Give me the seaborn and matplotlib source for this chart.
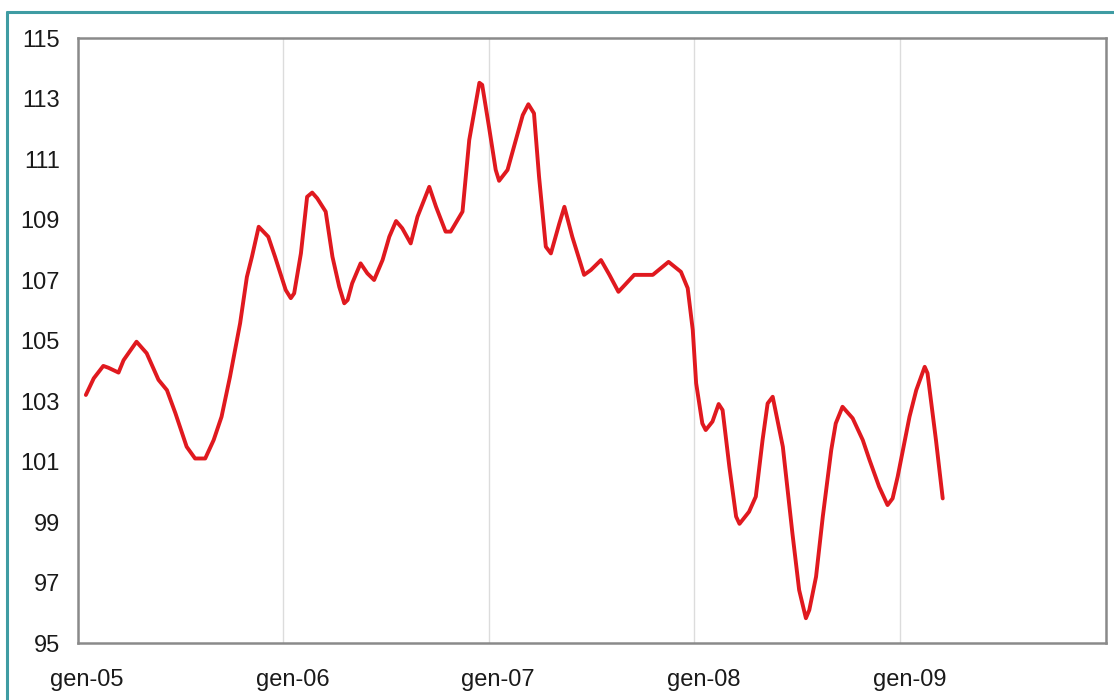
import pandas as pd
import matplotlib.pyplot as plt
from matplotlib.lines import Line2D
from matplotlib.transforms import ScaledTranslation
import seaborn as sns

# ─────────────────────────────────────────────
# DATA
# ─────────────────────────────────────────────
dates = [
    "2005-01-15", "2005-01-29", "2005-02-15", "2005-02-24", "2005-03-14", "2005-03-23",
    "2005-04-15", "2005-05-03", "2005-05-24", "2005-06-08", "2005-06-23", "2005-07-13",
    "2005-07-28", "2005-08-15", "2005-08-30", "2005-09-13", "2005-09-28", "2005-10-16",
    "2005-10-28", "2005-11-06", "2005-11-18", "2005-12-05", "2005-12-17",
    "2006-01-05", "2006-01-14", "2006-01-20", "2006-02-01", "2006-02-12", "2006-02-21",
    "2006-03-02", "2006-03-17", "2006-03-29", "2006-04-10", "2006-04-19", "2006-04-25",
    "2006-05-03", "2006-05-18", "2006-05-30", "2006-06-11", "2006-06-26", "2006-07-08",
    "2006-07-20", "2006-07-31", "2006-08-15", "2006-08-27", "2006-09-17", "2006-09-29",
    "2006-10-16", "2006-10-25", "2006-11-15", "2006-11-27", "2006-12-15", "2006-12-20",
    "2007-01-01", "2007-01-13", "2007-01-19", "2007-02-03", "2007-03-02", "2007-03-12",
    "2007-03-22", "2007-03-31", "2007-04-12", "2007-04-21", "2007-05-06", "2007-05-15",
    "2007-05-29", "2007-06-19", "2007-07-01", "2007-07-19", "2007-08-03", "2007-08-19",
    "2007-09-16", "2007-10-19", "2007-11-16", "2007-12-08", "2007-12-20", "2007-12-29",
    "2008-01-04", "2008-01-15", "2008-01-21", "2008-02-02", "2008-02-13", "2008-02-20",
    "2008-03-03", "2008-03-15", "2008-03-21", "2008-04-07", "2008-04-19", "2008-05-01",
    "2008-05-10", "2008-05-19", "2008-06-06", "2008-06-23", "2008-07-05", "2008-07-17",
    "2008-07-23", "2008-08-04", "2008-08-16", "2008-08-31", "2008-09-08", "2008-09-20",
    "2008-10-08", "2008-10-26", "2008-11-07", "2008-11-24", "2008-12-09", "2008-12-18",
    "2008-12-27", "2009-01-17", "2009-01-29", "2009-02-13", "2009-02-18", "2009-03-05",
    "2009-03-17",
]
values = [
    103.20, 103.75, 104.16, 104.10, 103.94, 104.35,
    104.96, 104.58, 103.70, 103.36, 102.60, 101.49,
    101.10, 101.10, 101.71, 102.48, 103.80, 105.57,
    107.10, 107.77, 108.76, 108.43, 107.77,
    106.67, 106.40, 106.56, 107.88, 109.75, 109.89,
    109.70, 109.26, 107.77, 106.78, 106.23, 106.34,
    106.89, 107.55, 107.22, 107.00, 107.66, 108.43,
    108.95, 108.71, 108.21, 109.09, 110.08, 109.42,
    108.60, 108.60, 109.26, 111.63, 113.52, 113.45,
    112.07, 110.64, 110.28, 110.64, 112.45, 112.81,
    112.51, 110.41, 108.10, 107.88, 108.87, 109.42,
    108.43, 107.17, 107.33, 107.66, 107.17, 106.61,
    107.17, 107.17, 107.60, 107.27, 106.73, 105.35,
    103.59, 102.26, 102.04, 102.32, 102.90, 102.70,
    100.83, 99.18, 98.94, 99.34, 99.84, 101.71,
    102.92, 103.14, 101.49, 98.63, 96.75, 95.82,
    96.09, 97.19, 99.18, 101.38, 102.26, 102.81,
    102.43, 101.71, 101.05, 100.17, 99.56, 99.78,
    100.50, 102.48, 103.36, 104.13, 103.92, 101.71,
    99.78,
]

tick_dates = ["2005-01-01", "2006-01-01", "2007-01-01", "2008-01-01", "2009-01-01", "2010-01-01"]
tick_labels = ["gen-05", "gen-06", "gen-07", "gen-08", "gen-09", ""]
y_ticks = [95, 97, 99, 101, 103, 105, 107, 109, 111, 113, 115]

df = pd.DataFrame({"date": pd.to_datetime(dates), "value": values})

# ─────────────────────────────────────────────
# PLOT
# ─────────────────────────────────────────────
sns.set_theme(style="white")
plt.rcParams["font.family"] = ["Liberation Sans", "DejaVu Sans"]

fig = plt.figure(figsize=(11.14, 7.0), dpi=100)
ax = fig.add_axes([0.0700, 0.0814, 0.9228, 0.8643])

sns.lineplot(data=df, x="date", y="value", ax=ax, color="#E0191F",
             linewidth=2.8, solid_joinstyle="round", solid_capstyle="round")

ax.set_xlim(pd.Timestamp("2005-01-01"), pd.Timestamp("2010-01-01"))
ax.set_ylim(95, 115)
ax.set_xticks(pd.to_datetime(tick_dates))
ax.set_xticklabels(tick_labels)
ax.set_yticks(y_ticks)
ax.set_xlabel("")
ax.set_ylabel("")

ax.grid(axis="x", color="#DCDCDC", linewidth=1.0)
ax.grid(axis="y", visible=False)
ax.set_axisbelow(True)

for side in ["left", "right", "top", "bottom"]:
    ax.spines[side].set_visible(True)
    ax.spines[side].set_color("#8A8A8A")
    ax.spines[side].set_linewidth(1.8)

ax.tick_params(axis="both", direction="out", width=1.0, color="#BBBBBB",
               labelsize=17, labelcolor="#1A1A1A")
ax.tick_params(axis="x", length=7, pad=12)
ax.tick_params(axis="y", length=6, pad=7)

# Excel places the month labels a little right of their tick
shift = ScaledTranslation(9 / 100, 0, fig.dpi_scale_trans)
for lbl in ax.get_xticklabels():
    lbl.set_transform(lbl.get_transform() + shift)

# teal frame around the picture (top and left edge)
fig.add_artist(Line2D([7 / 1114, 1.0], [1 - 11.5 / 700, 1 - 11.5 / 700],
                      transform=fig.transFigure, color="#3F9CA3", linewidth=2.2))
fig.add_artist(Line2D([7 / 1114, 7 / 1114], [0.0, 1 - 11.5 / 700],
                      transform=fig.transFigure, color="#3F9CA3", linewidth=2.2))

fig.savefig("out.png", dpi=100)
